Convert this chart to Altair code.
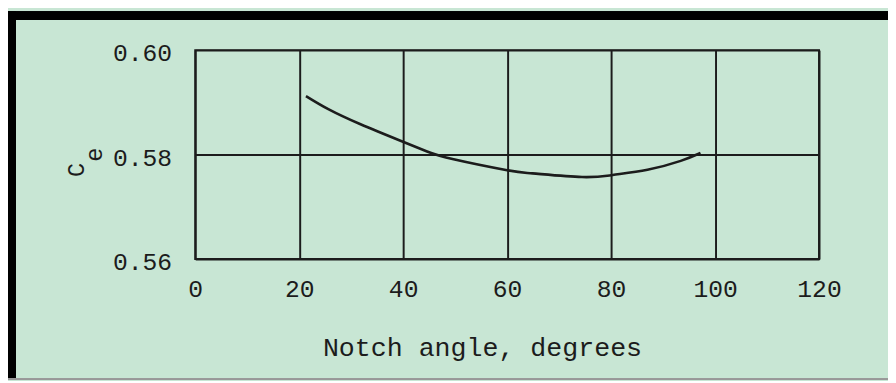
import altair as alt
import pandas as pd

# Curve
notch_angle = [21.3, 25.6, 31.8, 39.6, 44.6, 49.7, 60.0, 64.9, 74.4, 80.3, 87.0, 93.4, 97.2]
ce_values = [0.5912, 0.5887, 0.5858, 0.5826, 0.5806, 0.5791, 0.5770, 0.5764, 0.5757, 0.5761, 0.5771, 0.5788, 0.5803]

x_ticks = [0, 20, 40, 60, 80, 100, 120]
y_ticks = [0.56, 0.58, 0.60]
y_title_main = "C"
y_title_sub = ["e"]

df = pd.DataFrame({"angle": notch_angle, "ce": ce_values})
sub_df = pd.DataFrame({"t": y_title_sub})

FONT = "Liberation Mono"
INK = "#1c1c1c"
BG = "#c8e6d4"

x_enc = alt.X(
    "angle:Q",
    scale=alt.Scale(domain=[0, 120], nice=False, zero=False),
    axis=alt.Axis(
        values=x_ticks, title="Notch angle, degrees", grid=True, gridColor=INK,
        gridWidth=2, gridOpacity=1, domain=False, ticks=False, labelFont=FONT,
        labelFontSize=25, labelColor=INK, labelPadding=18, titleFont=FONT,
        titleFontSize=27, titleFontWeight="normal", titleColor=INK,
        titleX=291, titleY=98, titleAnchor="middle", titleBaseline="alphabetic",
        labelFlush=False,
    ),
)
y_enc = alt.Y(
    "ce:Q",
    scale=alt.Scale(domain=[0.56, 0.60], nice=False, zero=False),
    axis=alt.Axis(
        values=y_ticks, format=".2f", title=y_title_main, grid=True, gridColor=INK,
        gridWidth=2, gridOpacity=1, domain=False, ticks=False, labelFont=FONT,
        labelFontSize=25, labelColor=INK, labelPadding=24, labelOffset=3,
        labelFlush=False, titleFont=FONT, titleFontSize=24,
        titleFontWeight="normal", titleColor=INK, titleAngle=270,
        titleX=-113, titleY=121, titleAlign="center", titleBaseline="alphabetic",
    ),
)

curve = alt.Chart(df).mark_line(color=INK, strokeWidth=2.6, interpolate="natural").encode(
    x=x_enc, y=y_enc
)

subscript = alt.Chart(sub_df).mark_text(
    font=FONT, fontSize=24, color=INK, angle=270, align="center", baseline="middle"
).encode(text="t:N", x=alt.value(-102), y=alt.value(106))

frame_top = alt.Chart(df).mark_rule(color="black", strokeWidth=8).encode(
    x=alt.value(-190), x2=alt.value(900), y=alt.value(-35)
)
frame_left = alt.Chart(df).mark_rule(color="black", strokeWidth=8).encode(
    x=alt.value(-186), y=alt.value(-39), y2=alt.value(333)
)
frame_bottom = alt.Chart(df).mark_rule(color="#9a9a9a", strokeWidth=1).encode(
    x=alt.value(-190), x2=alt.value(900), y=alt.value(333.5)
)

chart = (
    alt.layer(curve, subscript, frame_top, frame_left, frame_bottom)
    .properties(
        width=633,
        height=212,
        padding={"left": 190, "top": 40, "right": 70, "bottom": 121},
        autosize=alt.AutoSizeParams(type="none"),
        background=BG,
    )
    .configure_view(stroke=INK, strokeWidth=2)
)

chart.save("out.html", embed_options={"renderer": "svg", "actions": False})
